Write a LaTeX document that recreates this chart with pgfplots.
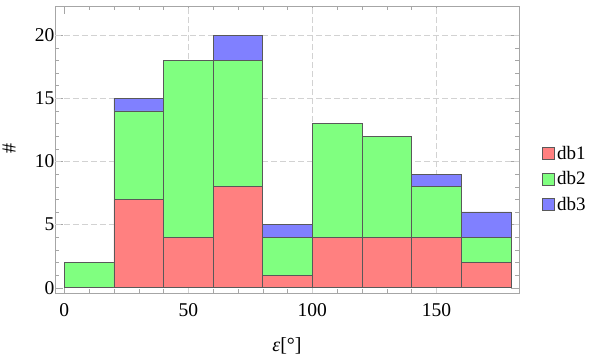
\documentclass[border=0pt]{standalone}
\usepackage{fontspec}
\setmainfont{Liberation Serif}
\usepackage{pgfplots}
\pgfplotsset{compat=1.18}
\definecolor{cdbone}{rgb}{1,0.5,0.5}
\definecolor{cdbtwo}{rgb}{0.5,1,0.5}
\definecolor{cdbthree}{rgb}{0.5,0.5,1}
\definecolor{edge}{rgb}{0.35,0.35,0.35}
\newcommand\lbl{\fontsize{19.5}{22}\selectfont}
\begin{document}
\begin{tikzpicture}[font=\lbl]
\begin{axis}[
  scale only axis, width=464pt, height=287pt,
  xmin=-3.75, xmax=183.3, ymin=-0.42, ymax=22.3,
  ybar stacked, bar width=20,
  xtick={0,50,100,150}, minor x tick num=4,
  ytick={0,5,10,15,20}, minor y tick num=4,
  major tick length=8pt, minor tick length=4pt,
  tick align=inside,
  axis line style={gray!70}, tick style={gray!70},
  extra x ticks={50,100,150}, extra y ticks={5,10,15,20},
  extra x tick labels={}, extra y tick labels={},
  extra tick style={grid=major, major tick length=0pt},
  grid style={dash pattern=on 6pt off 3pt, gray!35},
  xlabel={{\itshape ε}[°]}, ylabel={\#},
  xlabel style={at={(axis description cs:0.5,-0.185)}, anchor=center},
  ylabel style={at={(axis description cs:-0.099,0.502)}, anchor=center},
  tick label style={font=\lbl},
  xticklabel style={yshift=-7pt},
  yticklabel style={xshift=3pt},
  label style={font=\fontsize{20}{22}\selectfont},
  /pgf/number format/assume math mode=true,
  every axis plot/.append style={draw=edge, line width=0.6pt},
  legend style={at={(1.05,0.397)}, anchor=west, draw=none, fill=none,
    inner sep=0pt, row sep=7pt, font=\fontsize{19}{22}\selectfont},
  legend cell align=left,
  legend image code/.code={\draw[#1] (0pt,-6pt) rectangle (12pt,6pt);},
]
\addplot[fill=cdbone] coordinates {(10,0) (30,7) (50,4) (70,8) (90,1) (110,4) (130,4) (150,4) (170,2)};
\addplot[fill=cdbtwo] coordinates {(10,2) (30,7) (50,14) (70,10) (90,3) (110,9) (130,8) (150,4) (170,2)};
\addplot[fill=cdbthree] coordinates {(10,0) (30,1) (50,0) (70,2) (90,1) (110,0) (130,0) (150,1) (170,2)};
\legend{db1,db2,db3}
\coordinate (o) at (rel axis cs:0,0);
\end{axis}
\pgfresetboundingbox
\path (o) ++(-55pt,-64pt) rectangle ++(600pt,357pt);
\end{tikzpicture}
\end{document}
